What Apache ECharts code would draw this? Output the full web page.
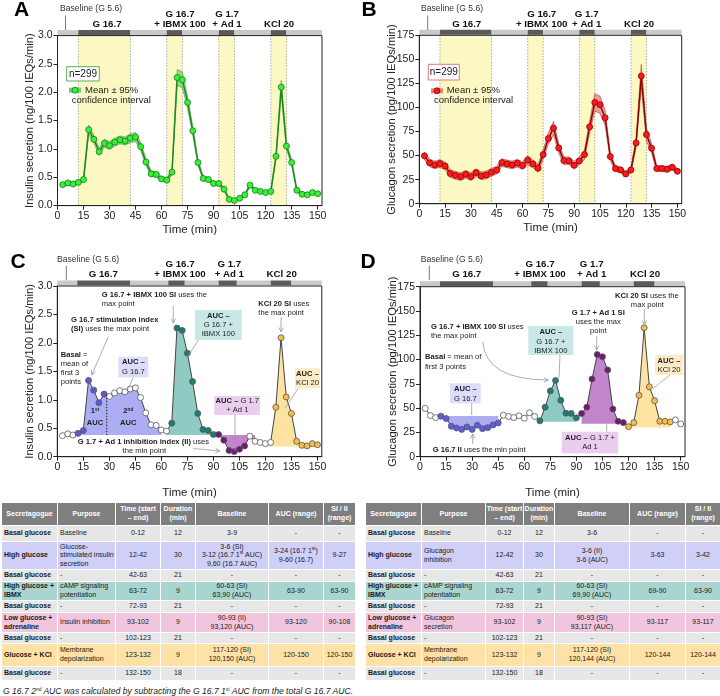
<!DOCTYPE html>
<html>
<head>
<meta charset="utf-8">
<script src="https://cdn.jsdelivr.net/npm/echarts@6.0.0/dist/echarts.min.js"></script>
<style>
html,body{margin:0;padding:0;background:#fff;}
#wrap{position:relative;width:720px;height:696px;overflow:hidden;background:#fff;font-family:'Liberation Sans',Arial,Helvetica,sans-serif;}
#chart{position:absolute;left:0;top:0;width:720px;height:500px;}
.cell{position:absolute;box-sizing:border-box;display:flex;align-items:center;white-space:pre-line;font-size:7px;line-height:8.6px;color:#1a1a1a;overflow:visible;}
.c{justify-content:center;text-align:center;}
.l{justify-content:flex-start;text-align:left;padding-left:2px;}
.b{font-weight:bold;}
.hd{color:#fff;font-weight:bold;background:#7f7f7f;}
sup{font-size:4.8px;line-height:0;vertical-align:3px;}
#foot{position:absolute;left:3px;top:686px;font-size:8.6px;font-style:italic;color:#222;white-space:nowrap;}
</style>
</head>
<body>
<div id="wrap"><div id="chart"></div><div id="tables"></div><div id="foot"></div></div>
<script>
const FONT = "'Liberation Sans', Arial, sans-serif";

// ---------------- DATA ----------------
const times = [3,6,9,12,15,18,21,24,27,30,33,36,39,42,45,48,51,54,57,60,63,66,69,72,75,78,81,84,87,90,93,96,99,102,105,108,111,114,117,120,123,126,129,132,135,138,141,144,147,150];
const insulin = [0.37,0.40,0.38,0.41,0.46,
  1.34,1.17,0.95,1.10,1.06,1.12,1.16,1.14,1.19,1.21,
  1.04,0.77,0.56,0.55,0.47,0.45,0.59,2.26,2.22,1.82,
  1.32,0.76,0.48,0.46,0.39,0.39,0.29,0.11,0.09,0.13,
  0.19,0.36,0.27,0.25,0.23,0.25,0.87,2.09,1.05,0.76,
  0.27,0.20,0.19,0.23,0.21];
const insulinCI = [0.03,0.03,0.03,0.03,0.04,
  0.08,0.07,0.06,0.07,0.07,0.07,0.07,0.07,0.08,0.08,
  0.07,0.06,0.05,0.05,0.04,0.04,0.05,0.14,0.14,0.11,
  0.08,0.05,0.04,0.04,0.03,0.03,0.03,0.02,0.02,0.02,
  0.02,0.03,0.02,0.02,0.02,0.02,0.06,0.12,0.06,0.05,
  0.03,0.02,0.02,0.02,0.02];
const glucagon = [49.7,42.4,40.3,41.7,39.3,
  31.3,29.5,28.1,30.6,28.1,32.3,28.9,29.9,32.7,34.8,
  42.7,41.4,40.3,42.1,39.6,45.2,41.4,36.9,51.0,67.7,
  78.5,58.0,44.8,44.5,40.0,44.5,51.0,79.9,105.2,102.8,
  89.3,49.0,36.5,35.1,30.9,35.1,63.2,132.7,71.9,57.7,
  36.5,36.5,35.8,37.9,33.7];
const glucagonCI = [4,4,4,4,4,
  4,4,4,4,4,4,4,4,4,4,
  4,4,4,4,4,5,4,4,5,6,
  7,5,4,4,4,4,5,6,9,9,
  8,4,3,3,3,3,5,12,7,5,
  3,3,3,3,3];

const xTicks = [0,15,30,45,60,75,90,105,120,135,150];
const insulinTicks = [0,0.5,1,1.5,2,2.5,3];
const glucagonTicks = [0,25,50,75,100,125,150,175];

// stimulation windows (min)
const stimWindows = [[12,42],[63,72],[93,102],[123,132]];
// treatment bar segments [start, end, isStimulus]
const barSegmentsAB = [[0,12,0],[12,42,1],[42,63,0],[63,72,1],[72,93,0],[93,102,1],[102,123,0],[123,132,1],[132,152.5,0]];
const barSegmentsCD = [[0,11.5,0],[11.5,42,1],[42,64,0],[64,73.5,1],[73.5,93,0],[93,103.5,1],[103.5,123,0],[123,135,1],[135,152.5,0]];

// phases of coloured points in C / D (time ranges)
const insulinPhases = {blue:[12,27], teal:[66,90], purple:[93,108], orange:[126,150]};
const glucagonPhases = {blue:[12,45], teal:[69,90], purple:[93,117], orange:[120,144]};
// AUC areas: time range and baseline value
const insulinAreas = [
  {phase:'blue', from:12, to:60, base:0.38},
  {phase:'teal', from:63, to:90, base:0.38},
  {phase:'purple', from:93, to:114, base:0.38},
  {phase:'orange', from:120, to:150, base:0.18}];
const glucagonAreas = [
  {phase:'blue', from:12, to:45, base:42},
  {phase:'teal', from:69, to:90, base:36},
  {phase:'purple', from:93, to:117, base:34},
  {phase:'orange', from:120, to:144, base:30}];
// 1st / 2nd AUC split: [time, top value, bottom value]
const insulinSplit = [28.5, 1.09, 0.38];

// tables
const tableHeader = ['Secretagogue','Purpose','Time (start\n– end)','Duration\n(min)','Baseline','AUC (range)','SI / II\n(range)'];
const rowKinds = ['basal','high','basal','ibmx','basal','adr','basal','kcl','basal'];
const insulinTable = [
  ['Basal glucose','Baseline','0-12','12','3-9','-','-'],
  ['High glucose','Glucose-\nstimulated insulin\nsecretion','12-42','30','3-6 (SI)\n3-12 (16.7 1<sup>st</sup> AUC)\n9,60 (16.7 AUC)','3-24 (16.7 1<sup>st</sup>)\n9-60 (16.7)','9-27'],
  ['Basal glucose','-','42-63','21','-','-','-'],
  ['High glucose +\nIBMX','cAMP signaling\npotentiation','63-72','9','60-63 (SI)\n63,90 (AUC)','63-90','63-90'],
  ['Basal glucose','-','72-93','21','-','-','-'],
  ['Low glucose +\nadrenaline','Insulin inhibition','93-102','9','90-93 (II)\n93,120 (AUC)','93-120','90-108'],
  ['Basal glucose','-','102-123','21','-','-','-'],
  ['Glucose + KCl','Membrane\ndepolarization','123-132','9','117-120 (SI)\n120,150 (AUC)','120-150','120-150'],
  ['Basal glucose','-','132-150','18','-','-','-']];
const glucagonTable = [
  ['Basal glucose','Baseline','0-12','12','3-6','-','-'],
  ['High glucose','Glucagon\ninhibition','12-42','30','3-6 (II)\n3-6 (AUC)','3-63','3-42'],
  ['Basal glucose','-','42-63','21','-','-','-'],
  ['High glucose +\nIBMX','cAMP signaling\npotentiation','63-72','9','60-63 (SI)\n69,90 (AUC)','69-90','63-90'],
  ['Basal glucose','-','72-93','21','-','-','-'],
  ['Low glucose +\nadrenaline','Glucagon\nsecretion','93-102','9','90-93 (SI)\n93,117 (AUC)','93-117','93-117'],
  ['Basal glucose','-','102-123','21','-','-','-'],
  ['Glucose + KCl','Membrane\ndepolarization','123-132','9','117-120 (SI)\n120,144 (AUC)','120-144','120-144'],
  ['Basal glucose','-','132-150','18','-','-','-']];
const footnote = 'G 16.7 2<sup>nd</sup> AUC was calculated by subtracting the G 16.7 1<sup>st</sup> AUC from the total G 16.7 AUC.';

// ---------------- STYLE ----------------
const pointFill = {
  C:{none:'#ffffff', blue:'#5a5ad8', teal:'#1d7c75', purple:'#6f1a76', orange:'#f6be48'},
  D:{none:'#ffffff', blue:'#5d5de0', teal:'#1f7d76', purple:'#731875', orange:'#f6be48'}};
const areaFill = {blue:'#adadf4', teal:'#8fcac3', purple:'#c385cc', orange:'#fde3a2'};
const rowFill = {basal:'#e7e7e7', high:'#cfcff8', ibmx:'#a9d5d0', adr:'#f2c5de', kcl:'#fde1a6'};

const grids = [
  {left:57.5, top:35.6, width:264.5, height:170},
  {left:419.3, top:35.3, width:262.4, height:168.4},
  {left:57.3, top:286, width:264.5, height:170.7},
  {left:420, top:286.7, width:265, height:170}];

function xAx(gi, gap){
  return {gridIndex:gi, type:'value', min:0, max:152.5, interval:15,
    name:'Time (min)', nameLocation:'middle', nameGap:gap, nameMoveOverlap:false,
    nameTextStyle:{fontSize:11.5, color:'#222', fontFamily:FONT},
    axisLine:{show:true, lineStyle:{color:'#222', width:1}},
    axisTick:{show:true, length:4, lineStyle:{color:'#222'}, customValues:xTicks},
    axisLabel:{fontSize:10.5, color:'#222', margin:5, fontFamily:FONT, customValues:xTicks},
    splitLine:{show:false}, z:10};
}
function yAx(gi, max, interval, ticks, name, fmt){
  return {gridIndex:gi, type:'value', min:0, max:max, interval:interval,
    name:name, nameLocation:'middle', nameGap:22, nameMoveOverlap:false,
    nameTextStyle:{fontSize:11.2, color:'#222', fontFamily:FONT},
    axisLine:{show:true, lineStyle:{color:'#222', width:1}},
    axisTick:{show:true, length:4, lineStyle:{color:'#222'}, customValues:ticks},
    axisLabel:{fontSize:10.5, color:'#222', margin:5, fontFamily:FONT, formatter:fmt, customValues:ticks},
    splitLine:{show:false}, z:10};
}

function shadeSeries(gi){
  return {type:'custom', xAxisIndex:gi, yAxisIndex:gi, z:1, silent:true, clip:false, animation:false,
    data: stimWindows.map(w=>[w[0], w[1]]),
    renderItem(params, api){
      const cs = params.coordSys;
      const x1 = api.coord([api.value(0), 0])[0];
      const x2 = api.coord([api.value(1), 0])[0];
      return {type:'group', children:[
        {type:'rect', shape:{x:x1, y:cs.y+0.5, width:x2-x1, height:cs.height-1}, style:{fill:'#fcf8c3'}},
        {type:'line', shape:{x1:x1, y1:cs.y, x2:x1, y2:cs.y+cs.height}, style:{stroke:'#777', lineWidth:0.9, lineDash:[1,2]}},
        {type:'line', shape:{x1:x2, y1:cs.y, x2:x2, y2:cs.y+cs.height}, style:{stroke:'#777', lineWidth:0.9, lineDash:[1,2]}}]};
    }};
}
function barSeries(gi, segs){
  return {type:'custom', xAxisIndex:gi, yAxisIndex:gi, z:5, silent:true, clip:false, animation:false,
    data: segs,
    renderItem(params, api){
      const cs = params.coordSys;
      const x1 = api.coord([api.value(0), 0])[0];
      const x2 = api.coord([api.value(1), 0])[0];
      return {type:'rect', shape:{x:x1, y:cs.y-5.5, width:x2-x1, height:5},
        style:{fill: api.value(2) ? '#5b5b5b' : '#c9c9c9'}};
    }};
}
function bandSeries(gi, vals, ci, fill, stroke){
  return {type:'custom', xAxisIndex:gi, yAxisIndex:gi, z:2, silent:true, clip:false, animation:false,
    data:[[0,0]],
    renderItem(params, api){
      const up = times.map((t,i)=>api.coord([t, vals[i]+ci[i]]));
      const lo = times.map((t,i)=>api.coord([t, vals[i]-ci[i]])).reverse();
      return {type:'polygon', shape:{points:up.concat(lo)}, style:{fill:fill, stroke:stroke, lineWidth:0.6}};
    }};
}
function meanLine(gi, vals, lineColor, fill, border){
  return {type:'line', xAxisIndex:gi, yAxisIndex:gi, z:3, silent:true, animation:false,
    data: times.map((t,i)=>[t, vals[i]]), symbol:'circle', symbolSize:6, showAllSymbol:true,
    lineStyle:{color:lineColor, width:1.4}, itemStyle:{color:fill, borderColor:border, borderWidth:0.8},
    emphasis:{disabled:true}};
}
function areaSeries(gi, vals, areas){
  return {type:'custom', xAxisIndex:gi, yAxisIndex:gi, z:2, silent:true, clip:false, animation:false,
    data: areas.map(a=>[a.from, a.base]),
    renderItem(params, api){
      const a = areas[params.dataIndex];
      const pts = [api.coord([a.from, a.base])];
      times.forEach((t,i)=>{ if(t>=a.from && t<=a.to) pts.push(api.coord([t, vals[i]])); });
      pts.push(api.coord([a.to, a.base]));
      return {type:'polygon', shape:{points:pts}, style:{fill:areaFill[a.phase]}};
    }};
}
function phaseOf(t, phases){
  for (const k in phases){ const r = phases[k]; if (t>=r[0] && t<=r[1]) return k; }
  return 'none';
}
function phaseLine(gi, vals, phases, pal){
  return {type:'line', xAxisIndex:gi, yAxisIndex:gi, z:3, silent:true, animation:false,
    data: times.map((t,i)=>({value:[t, vals[i]], itemStyle:{color:pal[phaseOf(t, phases)]}})),
    symbol:'circle', symbolSize:6, showAllSymbol:true,
    lineStyle:{color:'#444', width:1}, itemStyle:{borderColor:'#555', borderWidth:0.8},
    emphasis:{disabled:true}};
}
function splitSeries(gi, sp){
  return {type:'custom', xAxisIndex:gi, yAxisIndex:gi, z:4, silent:true, clip:false, animation:false,
    data:[sp],
    renderItem(params, api){
      const p1 = api.coord([api.value(0), api.value(1)]);
      const p2 = api.coord([api.value(0), api.value(2)]);
      return {type:'line', shape:{x1:p1[0], y1:p1[1], x2:p2[0], y2:p2[1]}, style:{stroke:'#222', lineWidth:1, lineDash:[1.5,1.5]}};
    }};
}

// ---------------- graphic helpers ----------------
const G = [];
function T(x, y, text, align, size, bold, color){
  size = size || 7.6;
  G.push({type:'text', x:x, y:y, silent:true, z:30,
    style:{text:text, x:0, y:0, fill:color||'#222', fontSize:size, fontFamily:FONT, fontWeight:bold?'bold':'normal',
      align:align||'center', verticalAlign:'middle',
      rich:{b:{fontWeight:'bold', fontSize:size, fontFamily:FONT, fill:color||'#222'},
            s:{fontWeight:'bold', fontSize:size*0.62, fontFamily:FONT, fill:color||'#222', verticalAlign:'top'}}}});
}
function seg(x1,y1,x2,y2,color,w,dash){
  G.push({type:'line', silent:true, z:25, shape:{x1:x1,y1:y1,x2:x2,y2:y2}, style:{stroke:color||'#9a9a9a', lineWidth:w||0.8, lineDash:dash||null}});
}
function head(x2,y2,a){
  const h=5, w=0.45;
  G.push({type:'polyline', silent:true, z:25, shape:{points:[[x2-h*Math.cos(a-w), y2-h*Math.sin(a-w)],[x2,y2],[x2-h*Math.cos(a+w), y2-h*Math.sin(a+w)]]},
    style:{stroke:'#9a9a9a', lineWidth:0.8, fill:null}});
}
function arrow(x1,y1,x2,y2){ seg(x1,y1,x2,y2); head(x2,y2,Math.atan2(y2-y1,x2-x1)); }
function box(x,y,w,h,fill){ G.push({type:'rect', silent:true, z:20, shape:{x:x,y:y,width:w,height:h}, style:{fill:fill}}); }

// top treatment labels
function topLabels(dy, xs, tickX){
  T(xs[0], 9+dy, 'Baseline (G 5.6)', 'left', 8.6, false, '#333');
  seg(tickX, 15.5+dy, tickX, 30+dy, '#555', 0.8);
  T(xs[1], 24+dy, 'G 16.7', 'center', 9.7, true, '#111');
  T(xs[2], 14+dy, 'G 16.7', 'center', 9.7, true, '#111');
  T(xs[2], 24+dy, '+ IBMX 100', 'center', 9.7, true, '#111');
  T(xs[3], 14+dy, 'G 1.7', 'center', 9.7, true, '#111');
  T(xs[3], 24+dy, '+ Ad 1', 'center', 9.7, true, '#111');
  T(xs[4], 24+dy, 'KCl 20', 'center', 9.7, true, '#111');
}
topLabels(0, [60,107,180,227,279], 65.5);
topLabels(0, [421,466.7,541.7,586.7,639], 427.7);
topLabels(250.3, [57,103.3,180,229.3,281.7], 66.3);
topLabels(250.3, [420.7,466.7,540,591.7,645], 429.3);

// panel letters
T(21.5, 10, 'A', 'center', 21, true, '#000');
T(369, 10, 'B', 'center', 21, true, '#000');
T(18, 262, 'C', 'center', 21, true, '#000');
T(368, 262, 'D', 'center', 21, true, '#000');

// legends A / B
function legendBox(bx, by, bw, bh, border, bandFill, dot, dotBorder, ix, iy, mx, my, cx, cy){
  G.push({type:'rect', silent:true, z:20, shape:{x:bx,y:by,width:bw,height:bh}, style:{fill:'#fff', stroke:border, lineWidth:1}});
  T(bx+bw/2, by+bh/2+0.3, 'n=299', 'center', 10, false, '#222');
  G.push({type:'rect', silent:true, z:20, shape:{x:ix,y:iy,width:12,height:5}, style:{fill:bandFill}});
  G.push({type:'circle', silent:true, z:21, shape:{cx:ix+6, cy:iy+2.5, r:3}, style:{fill:dot, stroke:dotBorder, lineWidth:0.8}});
  T(mx, my, 'Mean ± 95%', 'left', 9.5, false, '#222');
  T(cx, cy, 'confidence interval', 'left', 9.5, false, '#222');
}
legendBox(66.7, 66.7, 32.6, 14.3, '#58b058', '#6fd06f', '#38f038', '#1b7a1b', 69, 87.7, 85, 90, 71.7, 100.3);
legendBox(428.3, 64.3, 31, 15.7, '#d98080', '#e58080', '#ff1a1a', '#8b0000', 431, 88.3, 446.7, 90, 434, 100.3);

// ---- C annotations ----
T(101.7, 295, '{b|G 16.7 + IBMX 100 SI} uses the', 'left');
T(101.7, 303.6, 'max point', 'left');
arrow(173.3, 306, 173.3, 323);
T(258.3, 304, '{b|KCl 20 SI} uses', 'left');
T(258.3, 313.3, 'the max point', 'left');
arrow(281, 317, 281, 332);
T(71, 320, '{b|G 16.7 stimulation index}', 'left');
T(71, 329, '{b|(SI)} uses the max point', 'left');
arrow(108.3, 336.7, 91.7, 375);
T(60.7, 355, '{b|Basal} =', 'left');
T(60.7, 364, 'mean of', 'left');
T(60.7, 373, 'first 3', 'left');
T(60.7, 382, 'points', 'left');
box(118.3, 356.7, 30, 20.6, '#dcdcfb');
T(133.3, 362.3, '{b|AUC –}');
T(133.3, 372, 'G 16.7');
seg(133.3, 377.3, 128.3, 388.3);
T(95, 411, '{b|1}{s|st}');
T(95, 423, '{b|AUC}');
T(128.3, 411, '{b|2}{s|nd}');
T(128.3, 423, '{b|AUC}');
box(195, 310, 46.7, 30, '#c8e8e5');
T(218.3, 316, '{b|AUC –}');
T(218.3, 325, 'G 16.7 +');
T(218.3, 334.3, 'IBMX 100');
seg(198.3, 340, 186.7, 358.3);
box(295, 368.3, 25, 20, '#fdebc6');
T(307.5, 374, '{b|AUC –}');
T(307.5, 382.7, 'KCl 20');
seg(298.3, 388.3, 285, 408.3);
box(214.3, 396, 45.7, 19, '#ebcdf0');
T(237.3, 400.6, '{b|AUC –} G 1.7');
T(237.3, 409.6, '+ Ad 1');
seg(235, 415, 235, 451);
T(77.7, 441.7, '{b|G 1.7 + Ad 1 inhibition index (II)} uses', 'left');
T(144.3, 450.7, 'the min point');
arrow(193.3, 448.5, 220, 451);

// ---- D annotations ----
T(615, 296, '{b|KCl 20 SI} uses the', 'left');
T(647.3, 305, 'max point');
arrow(644.3, 309, 644.3, 325);
T(598.3, 312.7, '{b|G 1.7 + Ad 1 SI}');
T(598.3, 321.7, 'uses the max');
T(598.3, 331, 'point');
arrow(596.7, 336, 596.7, 350);
T(431, 326.7, '{b|G 16.7 + IBMX 100 SI} uses', 'left');
T(431, 336, 'the max point', 'left');
G.push({type:'bezierCurve', silent:true, z:25, shape:{x1:482.7, y1:341.7, cpx1:486, cpy1:380, x2:548.3, y2:380}, style:{stroke:'#9a9a9a', lineWidth:0.8, fill:null}});
head(548.3, 380, 0);
T(425, 357.3, '{b|Basal} = mean of', 'left');
T(425, 366.7, 'first 3 points', 'left');
box(528.3, 326, 45, 29, '#c8e8e5');
T(550.8, 332.3, '{b|AUC –}');
T(550.8, 341.7, 'G 16.7 +');
T(550.8, 350.7, 'IBMX 100');
seg(560, 355, 559, 378);
box(655, 355, 28.3, 20, '#fdebc6');
T(669, 360.7, '{b|AUC –}');
T(669, 370, 'KCl 20');
seg(670, 375, 653.3, 388.3);
box(450, 383.3, 30.7, 20, '#dcdcfb');
T(465.3, 389.3, '{b|AUC –}');
T(465.3, 398.5, 'G 16.7');
seg(471.7, 403.3, 471.7, 415);
T(432.7, 450, '{b|G 16.7 II} uses the min point', 'left');
arrow(472.7, 444, 472.7, 434);
box(561.7, 431.7, 56.6, 21.6, '#ebcdf0');
T(590, 437.7, '{b|AUC –} G 1.7 +');
T(590, 447.3, 'Ad 1');
seg(606.7, 431.7, 606.7, 423.3);

// ---------------- CHART ----------------
const chart = echarts.init(document.getElementById('chart'), null, {renderer:'canvas'});
const f1 = v => v.toFixed(1);
const f0 = v => String(v);
chart.setOption({
  animation:false,
  backgroundColor:'#fff',
  textStyle:{fontFamily:FONT},
  grid: grids.map(g=>Object.assign({show:true, borderColor:'#222', borderWidth:1, backgroundColor:'transparent', containLabel:false, outerBoundsMode:'none', z:10}, g)),
  xAxis:[xAx(0,18), xAx(1,18), xAx(2,30), xAx(3,30)],
  yAxis:[
    yAx(0, 3, 0.5, insulinTicks, 'Insulin secretion (ng/100 IEQs/min)', f1),
    yAx(1, 175, 25, glucagonTicks, 'Glucagon secretion (pg/100 IEQs/min)', f0),
    yAx(2, 3, 0.5, insulinTicks, 'Insulin secretion (ng/100 IEQs/min)', f1),
    yAx(3, 175, 25, glucagonTicks, 'Glucagon secretion (pg/100 IEQs/min)', f0)],
  series:[
    shadeSeries(0), barSeries(0, barSegmentsAB),
    bandSeries(0, insulin, insulinCI, 'rgba(80,195,80,0.6)', '#3f9f3f'),
    meanLine(0, insulin, '#1b8a1b', '#38f038', '#1b7a1b'),
    shadeSeries(1), barSeries(1, barSegmentsAB),
    bandSeries(1, glucagon, glucagonCI, 'rgba(225,90,90,0.6)', '#b04040'),
    meanLine(1, glucagon, '#8b0000', '#ff1a1a', '#8b0000'),
    barSeries(2, barSegmentsCD),
    areaSeries(2, insulin, insulinAreas),
    splitSeries(2, insulinSplit),
    phaseLine(2, insulin, insulinPhases, pointFill.C),
    barSeries(3, barSegmentsCD),
    areaSeries(3, glucagon, glucagonAreas),
    phaseLine(3, glucagon, glucagonPhases, pointFill.D)],
  graphic:{elements:G}
});

// ---------------- TABLES ----------------
const colsLeft = [[2,55],[58,57],[116,44],[161,34],[196,72],[269,54],[324,31]];
const colsRight = [[366,55],[422,63],[486,37],[524,30],[555,74],[630,55],[686,34]];
const rowsY = [[503,22],[526,15],[542,27],[570,11],[582,18],[601,11],[613,19],[633,10],[644,22],[667,13]];
function buildTable(cols, rows){
  let html = '';
  tableHeader.forEach((h,c)=>{
    html += `<div class="cell c hd" style="left:${cols[c][0]}px;top:${rowsY[0][0]}px;width:${cols[c][1]}px;height:${rowsY[0][1]}px;"><div>${h}</div></div>`;
  });
  rows.forEach((r,ri)=>{
    const y = rowsY[ri+1];
    r.forEach((txt,c)=>{
      const cls = (c<2 ? 'l' : 'c') + (c===0 ? ' b' : '');
      html += `<div class="cell ${cls}" style="left:${cols[c][0]}px;top:${y[0]}px;width:${cols[c][1]}px;height:${y[1]}px;background:${rowFill[rowKinds[ri]]};"><div style="white-space:pre;">${txt}</div></div>`;
    });
  });
  return html;
}
document.getElementById('tables').innerHTML = buildTable(colsLeft, insulinTable) + buildTable(colsRight, glucagonTable);
document.getElementById('foot').innerHTML = footnote;
</script>
</body>
</html>
